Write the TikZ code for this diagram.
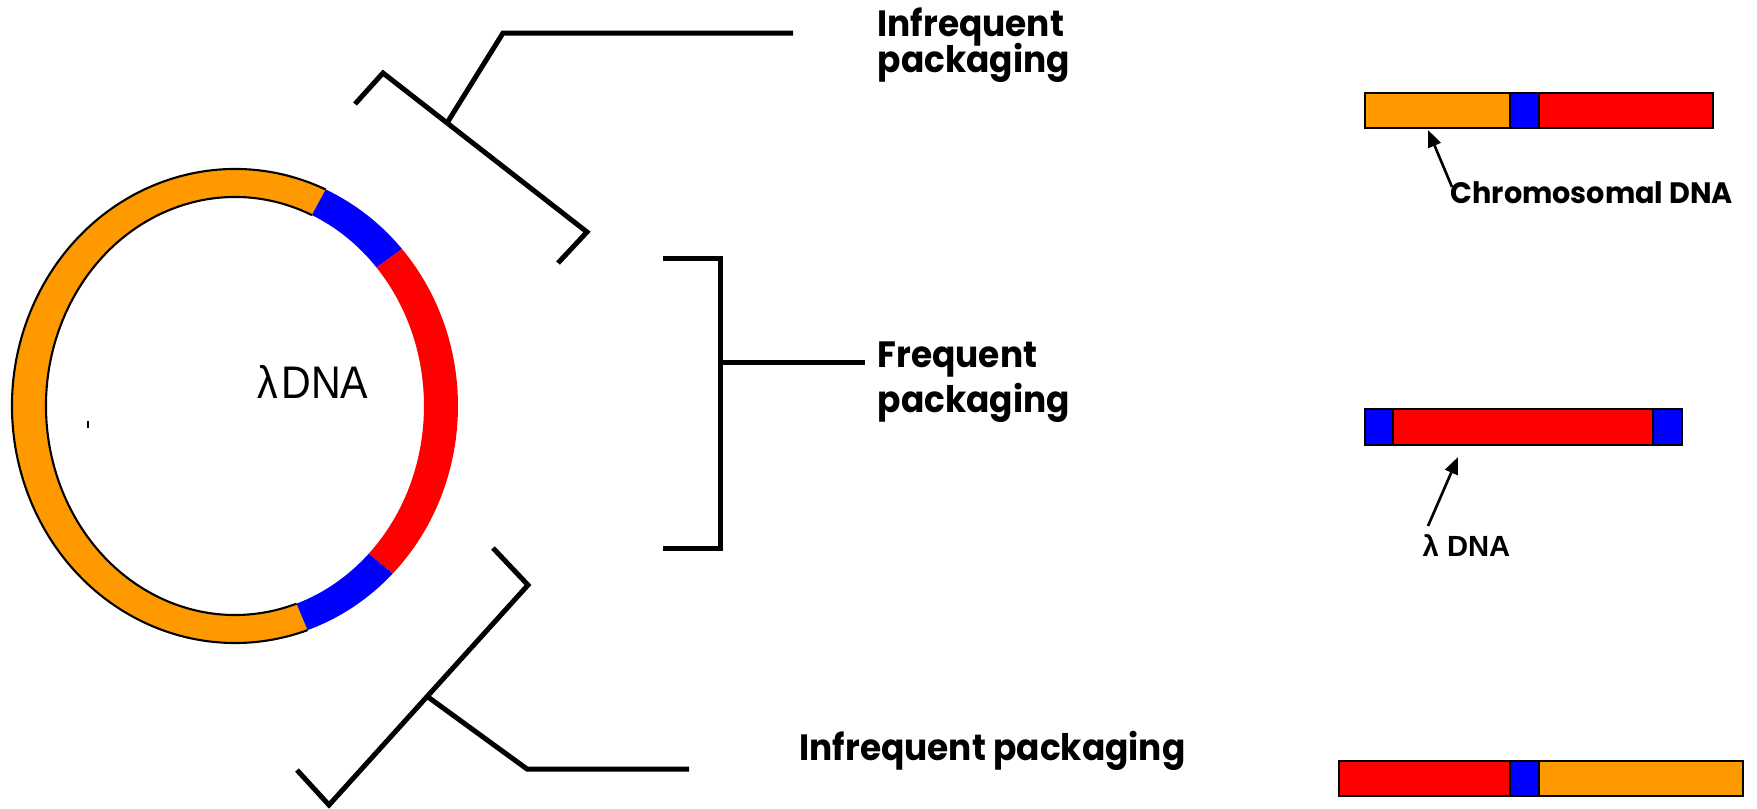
\documentclass[tikz,border=0pt]{standalone}
\usepackage{fontspec}
\setmainfont{Poppins}
\newfontfamily\arialfont{Liberation Sans}
\usetikzlibrary{arrows.meta}
\definecolor{dnaorange}{RGB}{255,153,0}
\definecolor{dnablue}{RGB}{0,0,255}
\definecolor{dnared}{RGB}{255,0,0}
\newcommand\ringseg[3]{\fill[#1] (#2:223 and 237) arc[start angle=#2,end angle=#3,x radius=223,y radius=237] -- (#3:189 and 209) arc[start angle=#3,end angle=#2,x radius=189,y radius=209] -- cycle;}
\begin{document}
\begin{tikzpicture}[x=0.01cm,y=-0.01cm,
  bracket/.style={line width=1.42pt, line join=miter},
  seg/.style={draw=black, line width=0.55pt},
  lbl/.style={font=\fontsize{10.4}{12}\selectfont\bfseries, anchor=base west, inner sep=0pt, xscale=0.94},
  smalllbl/.style={font=\fontsize{8.4}{10}\selectfont\bfseries, anchor=base west, inner sep=0pt, xscale=0.97},
  ptr/.style={line width=0.75pt, -{Triangle[length=4.8pt,width=3.8pt]}}]
\useasboundingbox[fill=white] (0,0) rectangle (1757,808);

% circular lambda DNA
\begin{scope}[shift={(235,406)}, yscale=-1]
  \ringseg{dnaorange}{66}{289}
  \ringseg{dnablue}{41.5}{66}
  \ringseg{dnared}{-45}{41.5}
  \ringseg{dnablue}{-71}{-45}
  \draw[line width=0.6pt] (66:223 and 237) arc[start angle=66,end angle=289,x radius=223,y radius=237];
  \draw[line width=0.6pt] (66:189 and 209) arc[start angle=66,end angle=289,x radius=189,y radius=209];
\end{scope}
\fill (87,421) rectangle (89,428);
\node[anchor=base west, inner sep=0pt, font=\arialfont\fontsize{13}{15}\selectfont, xscale=0.9] (circlbl) at (257,398) {λ\kern1pt DNA};

% brackets
\draw[bracket] (355,104) -- (383,73) -- (587,232) -- (558,263);
\draw[bracket] (447,123) -- (503,33) -- (793,33);
\draw[bracket] (663,258) -- (720,258) -- (720,548) -- (663,548);
\draw[bracket] (720,362) -- (865,362);
\draw[bracket] (493,548) -- (528,585) -- (329,805) -- (297,770);
\draw[bracket] (428,697) -- (527,769) -- (689,769);

% labels
\node[lbl] (top1) at (877,36) {Infrequent};
\node[lbl] (top2) at (877,72) {packaging};
\node[lbl] (mid1) at (877,367) {Frequent};
\node[lbl] (mid2) at (877,412) {packaging};
\node[lbl] (bot) at (799,760) {Infrequent packaging};

% bars
\draw[seg, fill=dnaorange] (1365,93) rectangle (1510,128);
\draw[seg, fill=dnablue] (1510,93) rectangle (1539,128);
\draw[seg, fill=dnared] (1539,93) rectangle (1713,128);

\draw[seg, fill=dnablue] (1365,409) rectangle (1393,445);
\draw[seg, fill=dnared] (1393,409) rectangle (1653,445);
\draw[seg, fill=dnablue] (1653,409) rectangle (1682,445);

\draw[seg, fill=dnared] (1339,761) rectangle (1510,796);
\draw[seg, fill=dnablue] (1510,761) rectangle (1539,796);
\draw[seg, fill=dnaorange] (1539,761) rectangle (1743,796);

\node[smalllbl] (chrom) at (1450,203) {Chromosomal DNA};
\node[anchor=base west, inner sep=0pt, font=\arialfont\fontsize{8.3}{10}\selectfont\bfseries] (lam) at (1422,556) {λ DNA};

\coordinate (a1s) at (1452,187);
\coordinate (a1t) at (1428,130);
\coordinate (a2s) at (1428,526);
\coordinate (a2t) at (1458,457);
\draw[ptr] (a1s) -- (a1t);
\draw[ptr] (a2s) -- (a2t);
\end{tikzpicture}
\end{document}
